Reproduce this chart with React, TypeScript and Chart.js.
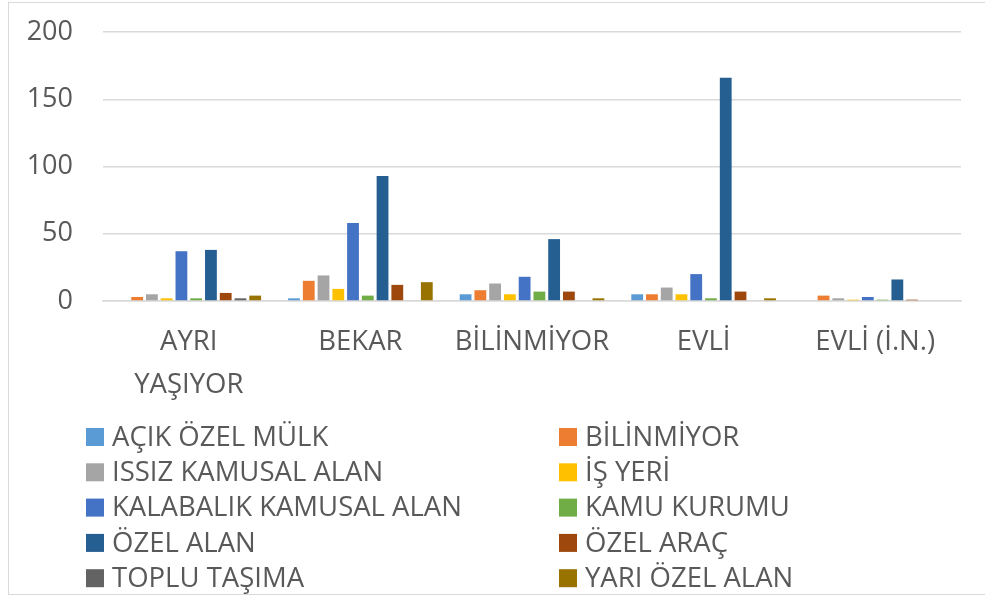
import React, { useEffect, useRef } from "react";
import { Chart, registerables } from "chart.js";

Chart.register(...registerables);

const categories: (string | string[])[] = [["AYRI", "YAŞIYOR"], "BEKAR", "BİLİNMİYOR", "EVLİ", "EVLİ (İ.N.)"];

const seriesNames = [
  "AÇIK ÖZEL MÜLK",
  "BİLİNMİYOR",
  "ISSIZ KAMUSAL ALAN",
  "İŞ YERİ",
  "KALABALIK KAMUSAL ALAN",
  "KAMU KURUMU",
  "ÖZEL ALAN",
  "ÖZEL ARAÇ",
  "TOPLU TAŞIMA",
  "YARI ÖZEL ALAN",
];

const acikOzelMulk = [0, 2, 5, 5, 0];
const bilinmiyor = [3, 15, 8, 5, 4];
const issizKamusalAlan = [5, 19, 13, 10, 2];
const isYeri = [2, 9, 5, 5, 1];
const kalabalikKamusalAlan = [37, 58, 18, 20, 3];
const kamuKurumu = [2, 4, 7, 2, 1];
const ozelAlan = [38, 93, 46, 166, 16];
const ozelArac = [6, 12, 7, 7, 1];
const topluTasima = [2, 0, 0, 0, 0];
const yariOzelAlan = [4, 14, 2, 2, 0];

const seriesValues = [
  acikOzelMulk,
  bilinmiyor,
  issizKamusalAlan,
  isYeri,
  kalabalikKamusalAlan,
  kamuKurumu,
  ozelAlan,
  ozelArac,
  topluTasima,
  yariOzelAlan,
];

const seriesColors = [
  "#5B9BD5",
  "#ED7D31",
  "#A5A5A5",
  "#FFC000",
  "#4472C4",
  "#70AD47",
  "#255E91",
  "#9E480E",
  "#636363",
  "#997300",
];

const yTicks = [0, 50, 100, 150, 200];

const TEXT = "#595959";
const FONT = "'Open Sans', sans-serif";

const twoColLegend = {
  id: "twoColLegend",
  afterDraw(chart: any) {
    const ctx = chart.ctx;
    const items = chart.data.datasets;
    ctx.save();
    ctx.font = `27.5px ${FONT}`;
    ctx.textBaseline = "middle";
    ctx.textAlign = "left";
    const colX = [77, 550];
    const top0 = 425;
    const rowH = 35.3;
    const box = 18;
    items.forEach((ds: any, i: number) => {
      const col = i % 2;
      const row = Math.floor(i / 2);
      const x = colX[col];
      const y = top0 + row * rowH;
      ctx.fillStyle = ds.backgroundColor;
      ctx.fillRect(x, y, box, box);
      ctx.fillStyle = TEXT;
      ctx.fillText(ds.label, x + 26, y + box / 2 + 1);
    });
    ctx.restore();
  },
};

export default function App() {
  const ref = useRef<HTMLCanvasElement | null>(null);
  useEffect(() => {
    if (!ref.current) return;
    const chart = new Chart(ref.current, {
      type: "bar",
      data: {
        labels: categories,
        datasets: seriesNames.map((name, i) => ({
          label: name,
          data: seriesValues[i],
          backgroundColor: seriesColors[i],
          borderWidth: 0,
          categoryPercentage: 0.86,
          barPercentage: 0.8,
        })),
      },
      options: {
        responsive: false,
        animation: false,
        layout: { padding: { left: 0, right: 24, top: 29, bottom: 0 } },
        plugins: {
          legend: { display: false },
          tooltip: { enabled: false },
        },
        scales: {
          x: {
            grid: { display: false, drawTicks: false },
            border: { display: true, color: "#d9d9d9", width: 1.5 },
            ticks: {
              color: TEXT,
              font: { family: FONT, size: 27.5, lineHeight: 1.55 },
              padding: 20,
              maxRotation: 0,
              autoSkip: false,
            },
            afterFit: (s: any) => {
              s.height = 293;
              s.paddingLeft = 0;
              s.paddingRight = 0;
            },
          },
          y: {
            min: 0,
            max: 200,
            afterBuildTicks: (s: any) => {
              s.ticks = yTicks.map((v) => ({ value: v }));
            },
            grid: { color: "#d9d9d9", lineWidth: 1.5, drawTicks: false },
            border: { display: false },
            ticks: {
              color: TEXT,
              font: { family: FONT, size: 27 },
              padding: 30,
            },
            afterFit: (s: any) => {
              s.width = 94;
              s.paddingTop = 0;
              s.paddingBottom = 0;
            },
          },
        },
      },
      plugins: [twoColLegend],
    });
    return () => chart.destroy();
  }, []);
  return (
    <div
      style={{
        position: "absolute",
        left: 8,
        top: 2,
        width: 990,
        height: 593,
        border: "1px solid #d9d9d9",
        boxSizing: "border-box",
        background: "#fff",
      }}
    >
      <canvas ref={ref} width={976} height={591} style={{ display: "block", width: 976, height: 591 }} />
    </div>
  );
}
